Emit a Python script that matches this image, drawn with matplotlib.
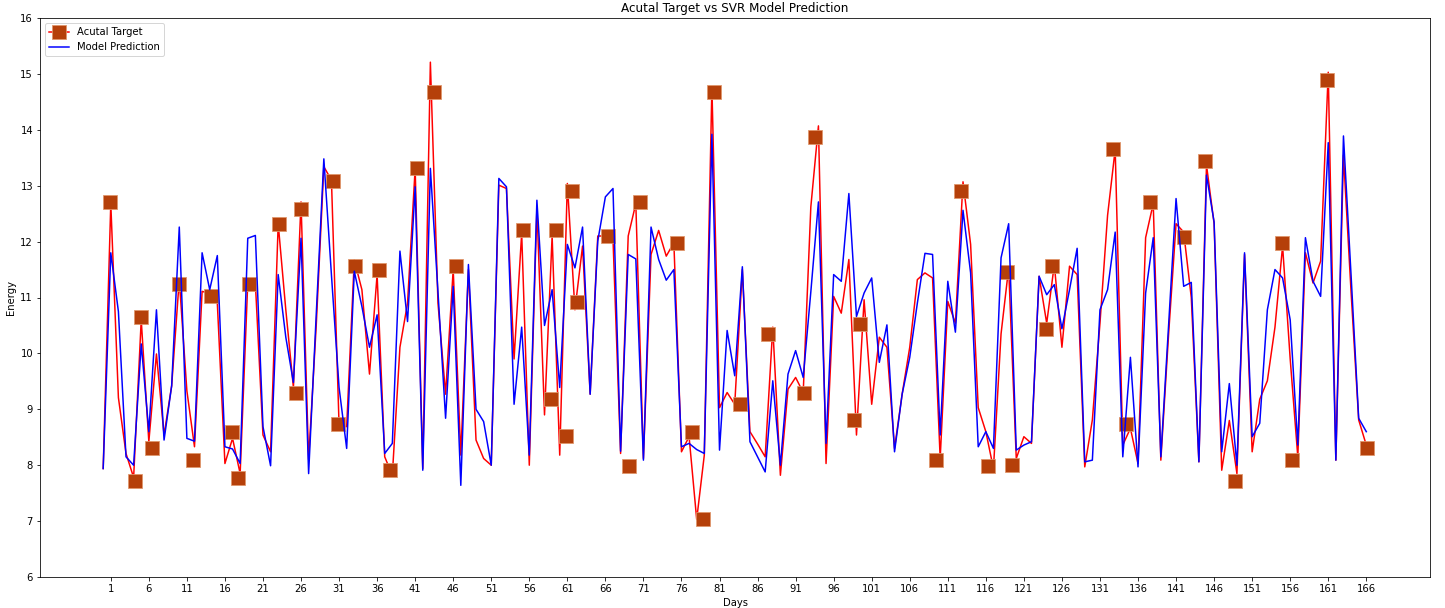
import numpy as np
import matplotlib
matplotlib.use("Agg")
import matplotlib.pyplot as plt
from matplotlib.lines import Line2D

target = [7.94, 12.68, 9.21, 8.21, 7.78, 10.60, 8.42, 9.99, 8.54, 9.42,
          11.32, 9.33, 8.33, 11.11, 11.07, 10.90, 8.03, 8.48, 7.85, 11.26,
          11.26, 8.54, 8.24, 12.32, 10.78, 9.39, 12.71, 8.10, 10.50, 13.34,
          13.10, 8.72, 8.69, 11.67, 11.14, 9.63, 11.41, 8.15, 7.82, 10.11,
          10.90, 13.31, 7.94, 15.21, 10.90, 9.27, 11.50, 8.18, 11.50, 8.45,
          8.12, 8.00, 13.01, 12.95, 9.90, 12.15, 8.00, 12.60, 8.90, 12.10,
          8.18, 13.04, 10.78, 11.92, 9.27, 12.10, 12.10, 12.05, 8.21, 12.10,
          12.68, 8.12, 11.77, 12.20, 11.74, 11.98, 8.24, 8.51, 7.03, 8.18,
          14.76, 9.03, 9.30, 9.09, 11.50, 8.60, 8.38, 8.15, 10.47, 7.82, 9.36,
          9.57, 9.30, 12.62, 14.07, 8.03, 11.02, 10.72, 11.68, 8.54, 10.96,
          9.09, 10.29, 10.11, 8.30, 9.27, 10.11, 11.32, 11.44, 11.35, 8.12,
          10.93, 10.54, 13.07, 11.95, 9.03, 8.60, 7.94, 10.35, 11.53, 8.12,
          8.51, 8.39, 11.38, 10.54, 11.59, 10.11, 11.56, 11.41, 7.97, 8.81,
          10.54, 12.47, 13.65, 8.36, 8.66, 8.03, 12.07, 12.68, 8.09, 10.30,
          12.32, 12.17, 11.00, 8.06, 13.37, 12.32, 7.91, 8.80, 7.85, 11.77,
          8.24, 9.18, 9.51, 10.47, 11.92, 9.90, 8.15, 11.80, 11.26, 11.65,
          15.03, 8.09, 13.55, 11.10, 8.81, 8.36]

prediction = [7.94, 11.80, 10.75, 8.15, 8.00, 10.17, 8.60, 10.78, 8.45, 9.42,
              12.26, 8.48, 8.43, 11.80, 11.14, 11.75, 8.33, 8.29, 8.03, 12.06,
              12.11, 8.69, 7.99, 11.41, 10.29, 9.48, 12.06, 7.85, 10.70, 13.48,
              11.40, 9.39, 8.30, 11.47, 10.84, 10.11, 10.69, 8.21, 8.39, 11.83,
              10.57, 12.98, 7.91, 13.31, 11.10, 8.84, 11.20, 7.64, 11.59, 9.00,
              8.78, 8.00, 13.13, 12.98, 9.09, 10.47, 8.18, 12.74, 10.50, 11.14,
              9.39, 11.95, 11.53, 12.26, 9.27, 12.01, 12.80, 12.95, 8.25, 11.77,
              11.69, 8.09, 12.26, 11.68, 11.31, 11.50, 8.33, 8.39, 8.28, 8.21,
              13.92, 8.27, 10.41, 9.60, 11.55, 8.42, 8.15, 7.88, 9.51, 8.00, 9.63,
              10.05, 9.57, 11.10, 12.71, 8.39, 11.41, 11.29, 12.86, 10.66, 11.08,
              11.35, 9.84, 10.51, 8.24, 9.27, 9.93, 10.90, 11.79, 11.77, 8.54,
              11.29, 10.38, 12.56, 11.44, 8.33, 8.60, 8.30, 11.71, 12.32, 8.27,
              8.36, 8.42, 11.38, 11.05, 11.23, 10.44, 11.14, 11.88, 8.06, 8.09,
              10.78, 11.14, 12.17, 8.15, 9.93, 7.97, 11.08, 12.07, 8.15, 10.46,
              12.77, 11.20, 11.27, 8.06, 13.19, 12.35, 8.24, 9.46, 8.00, 11.80,
              8.51, 8.75, 10.78, 11.50, 11.35, 10.60, 8.36, 12.07, 11.29, 11.02,
              13.77, 8.09, 13.89, 11.40, 8.84, 8.60]

marker_days = [0.89, 4.22, 4.97, 6.37, 9.96, 11.76, 14.12, 16.88, 17.67, 19.11,
               23.06, 25.29, 26.02, 30.19, 30.89, 33.12, 36.19, 37.64, 41.22, 43.42,
               46.31, 55.15, 58.83, 59.53, 60.80, 61.55, 62.24, 66.41, 69.11, 70.56,
               75.47, 77.35, 78.79, 80.24, 83.75, 87.43, 92.07, 93.51, 98.67, 99.42,
               109.47, 112.78, 116.24, 118.77, 119.48, 123.86, 124.68, 132.75, 134.37, 137.59,
               141.99, 144.79, 148.73, 154.86, 156.30, 160.81, 166.07]
marker_values = [12.70, 7.71, 10.65, 8.31, 11.24, 8.10, 11.03, 8.60, 7.77, 11.24,
                 12.31, 9.30, 12.59, 13.08, 8.74, 11.56, 11.50, 7.92, 13.31, 14.68,
                 11.57, 12.20, 9.19, 12.20, 8.52, 12.91, 10.92, 12.10, 7.99, 12.70,
                 11.98, 8.59, 7.03, 14.68, 9.09, 10.34, 9.30, 13.87, 8.81, 10.53,
                 8.09, 12.91, 7.99, 11.46, 8.00, 10.43, 11.57, 13.65, 8.74, 12.70,
                 12.09, 13.45, 7.71, 11.98, 8.09, 14.89, 8.31]

tick_labels = list(range(1, 167, 5))

days = np.arange(len(target))
mk_x = np.array(marker_days)

fig = plt.figure(figsize=(1445/72, 608/72), dpi=72)
ax = fig.add_subplot(111)
fig.subplots_adjust(left=40/1445, right=1430/1445, bottom=1-577/608, top=1-18/608)

mfc = '#B5400A'
mec = '#E0966A'
LW = 1.5
MS = 14
ax.plot(days, target, color='red', lw=LW, zorder=2)
ax.plot(mk_x, marker_values, linestyle='none', marker='s', ms=MS,
        mfc=mfc, mec=mec, mew=0.8, zorder=2.5)
ax.plot(days, prediction, color='blue', lw=LW, zorder=3)

handles = [Line2D([], [], color='red', lw=LW, marker='s', ms=MS, mfc=mfc, mec=mec, mew=0.8),
           Line2D([], [], color='blue', lw=LW)]
ax.legend(handles, ['Acutal Target', 'Model Prediction'], loc='upper left')

ax.set_ylim(6, 16)
ax.set_yticks(range(6, 17))
ax.set_xticks(tick_labels)
ax.set_xticklabels([str(t) for t in tick_labels])
ax.set_title('Acutal Target vs SVR Model Prediction')
ax.set_xlabel('Days')
ax.set_ylabel('Energy')

fig.savefig('out.png', dpi=72)
